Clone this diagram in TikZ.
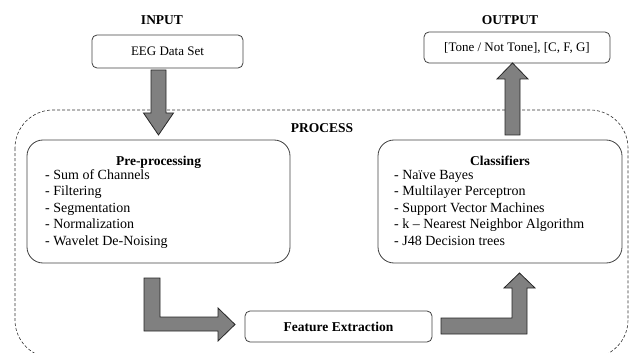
\documentclass[tikz,border=0pt]{standalone}
\usepackage{fontspec}
\setmainfont{Liberation Serif}
\usepackage{tikz}
\newcommand{\diagramfont}{\fontsize{13}{16}\selectfont}
\newcommand{\listfont}{\fontsize{14}{16.5}\selectfont}
\newcommand{\headingfont}{\fontsize{13.5}{16}\selectfont\bfseries}
\tikzstyle{box}=[draw=black!75, line width=0.8pt, rounded corners=5pt, inner sep=0, outer sep=0]
\tikzstyle{stagebox}=[box, rounded corners=16pt, minimum height=123pt]
\tikzstyle{heading}=[font=\headingfont, inner sep=0, anchor=base]
% multi-line nodes sit on the baseline of their last line
\tikzstyle{itemlist}=[font=\listfont, align=left, inner sep=0, anchor=base west]
\tikzstyle{blockarrow}=[draw=black!85, line width=0.8pt, fill=black!50, line join=miter]
\tikzstyle{processframe}=[draw=black!80, line width=0.6pt, dash pattern=on 3pt off 2pt, rounded corners=38pt]
\tikzstyle{flowchart}=[x=1pt, y=-1pt,
                       % plain text everywhere unless a style says otherwise
                       every node/.style={font=\diagramfont}]

\begin{document}
\begin{tikzpicture}[flowchart]
    \useasboundingbox (0, 0) rectangle (630, 353);
    \clip (0, 0) rectangle (630, 353);
    % dashed frame, runs off the bottom of the page
    \draw[processframe] (15, 110) rectangle (628, 358);
    \node[heading] (process) at (322, 132) {PROCESS};

    \node[heading] (input) at (162, 25) {INPUT};
    \node[box, minimum width=151pt, minimum height=33pt] (eeg) at (167.5, 51.5) {EEG Data Set};
    \node[heading] (output) at (510, 25) {OUTPUT};
    \node[box, minimum width=186pt, minimum height=31pt] (result) at (517, 47.5) {[Tone / Not Tone], [C, F, G]};

    \node[stagebox, minimum width=263pt] (pre) at (158.5, 201.5) {};
    \node[heading] (pretitle) at (158.5, 165) {Pre-processing};
    \node[itemlist] (prelist) at (45, 245) {- Sum of Channels\\- Filtering\\- Segmentation\\- Normalization\\- Wavelet De-Noising};

    \node[stagebox, minimum width=244pt] (cls) at (500, 201.5) {};
    \node[heading] (clstitle) at (500, 165) {Classifiers};
    \node[itemlist] (clslist) at (394, 245) {- Naïve Bayes\\- Multilayer Perceptron\\- Support Vector Machines\\- k -- Nearest Neighbor Algorithm\\- J48 Decision trees};

    \node[box, minimum width=187pt, minimum height=31pt, font=\headingfont] (feat) at (338.5, 326.5) {Feature Extraction};

    % block arrows
    \draw[blockarrow] ([xshift=-16.5pt, yshift=-2pt]eeg.south) -- ++(15, 0) -- ++(0, 43) -- ++(7.5, 0)
        -- ++(-15, 22) -- ++(-15, -22) -- ++(7.5, 0) -- cycle;
    \draw[blockarrow] ([xshift=-14.5pt, yshift=-15pt]pre.south) -- ++(16, 0) -- ++(0, 39) -- ++(58, 0)
        -- ++(0, -9) -- ++(17, 16.5) -- ++(-17, 16.5) -- ++(0, -10) -- ++(-74, 0) -- cycle;
    \draw[blockarrow] ([xshift=9pt, yshift=8.5pt]feat.east) -- ++(71, 0) -- ++(0, -30) -- ++(-8, 0)
        -- ++(15.5, -15) -- ++(15.5, 15) -- ++(-8, 0) -- ++(0, 46) -- ++(-86, 0) -- cycle;
    \draw[blockarrow] ([xshift=5pt, yshift=5pt]cls.north) -- ++(15, 0) -- ++(0, -56) -- ++(8, 0)
        -- ++(-15.5, -16) -- ++(-15.5, 16) -- ++(8, 0) -- cycle;
\end{tikzpicture}
\end{document}
